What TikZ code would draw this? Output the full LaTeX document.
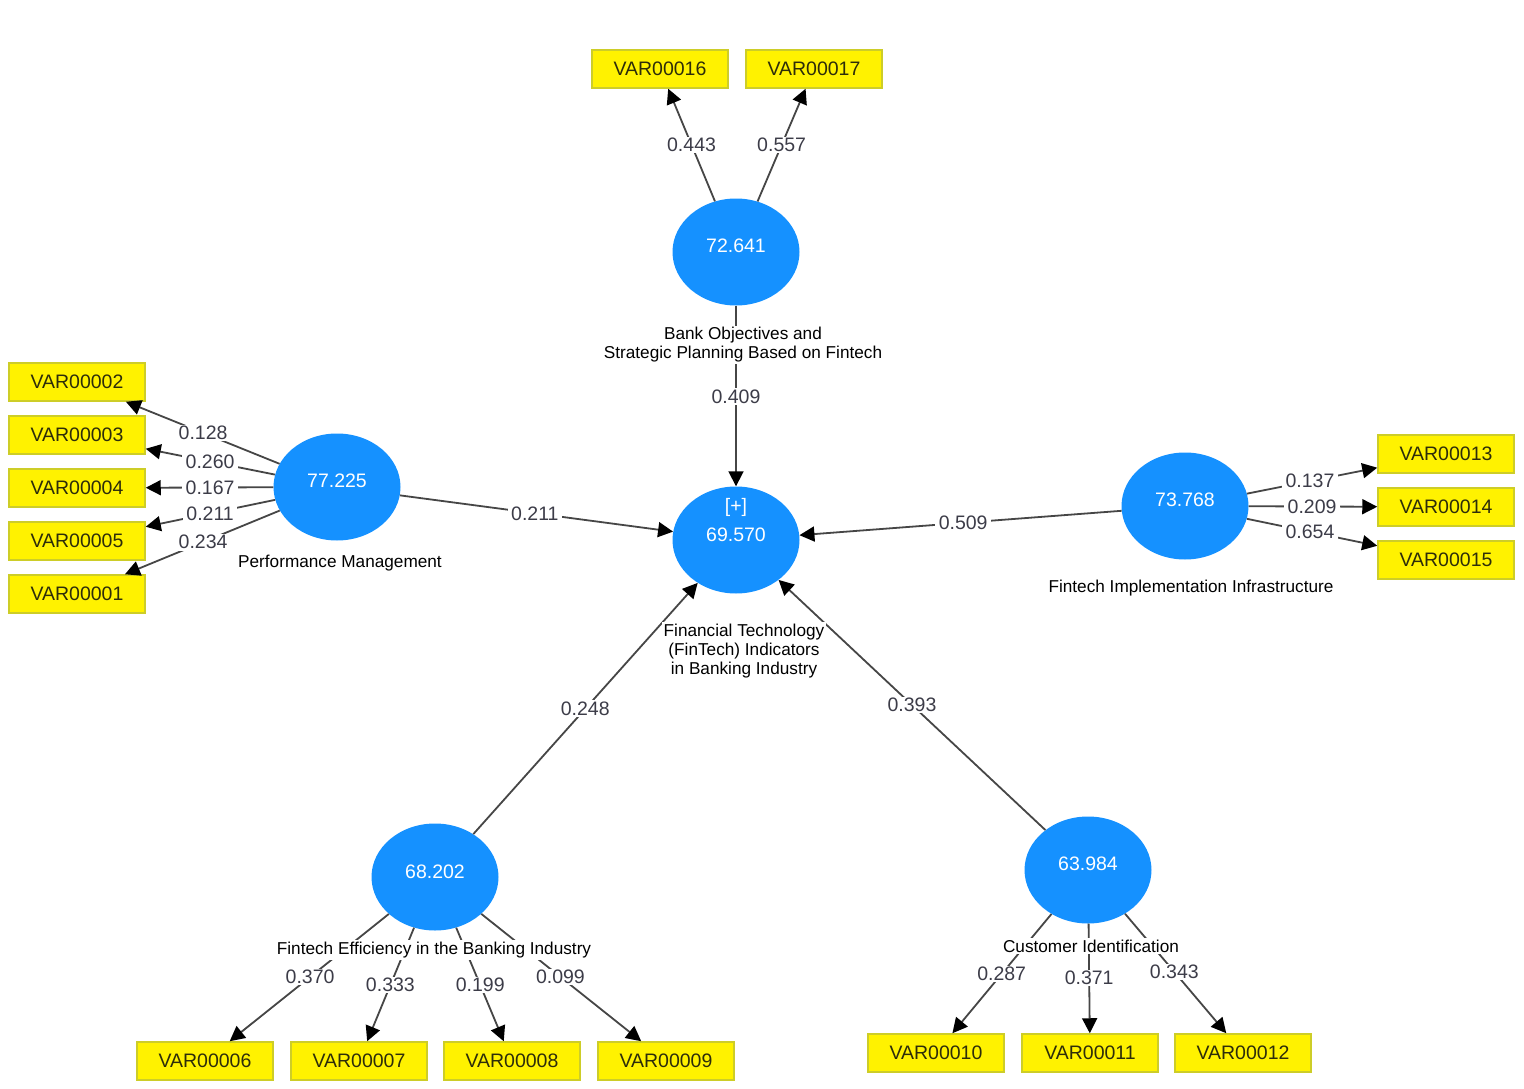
\documentclass[tikz,border=0pt]{standalone}
\usepackage{fontspec}
\setmainfont{Liberation Sans}
\usetikzlibrary{arrows.meta,calc,shapes.geometric}
\definecolor{lvblue}{RGB}{21,145,255}
\definecolor{boxborder}{RGB}{205,205,40}
\definecolor{boxtext}{RGB}{45,45,10}
\definecolor{linegray}{RGB}{70,70,70}
\definecolor{coefgray}{RGB}{60,60,72}
\begin{document}
\begin{tikzpicture}[x=1pt,y=-1pt,
  lv/.style={ellipse, fill=lvblue, minimum width=127pt, minimum height=107pt, inner sep=0pt},
  lvtxt/.style={text=white, inner sep=0pt, font=\fontsize{19.5}{22}\selectfont},
  ind/.style={rectangle, fill=yellow, draw=boxborder, line width=1.5pt, minimum width=136pt, minimum height=38pt, inner sep=0pt, text=boxtext, font=\fontsize{19.5}{22}\selectfont},
  lnk/.style={draw=linegray, line width=1.8pt, -{Triangle[length=15pt,width=15pt,color=black]}},
  coef/.style={fill=white, inner xsep=3.5pt, inner ysep=1.5pt, text=coefgray, font=\fontsize{19.5}{22}\selectfont},
  lvname/.style={fill=white, inner sep=1.5pt, align=center, text=black, font=\fontsize{17.2}{19}\selectfont}
]
\useasboundingbox (0,0) rectangle (1524,1089);
\fill[white] (0,0) rectangle (1524,1089);

% latent variables
\node[lv] (T)   at (736,252) {};
\node[lv] (C)   at (736,540) {};
\node[lv] (PM)  at (337,487) {};
\node[lv] (FII) at (1185,506) {};
\node[lv] (BL)  at (435,877) {};
\node[lv] (BR)  at (1088,870) {};

\node[lvtxt] (tT)   at ($(T)+(0,-6)$) {72.641};
\node[lvtxt] (tC1)  at ($(C)+(0,-33)$) {[+]};
\node[lvtxt] (tC2)  at ($(C)+(0,-5)$) {69.570};
\node[lvtxt] (tPM)  at ($(PM)+(0,-6)$) {77.225};
\node[lvtxt] (tFII) at ($(FII)+(0,-6)$) {73.768};
\node[lvtxt] (tBL)  at ($(BL)+(0,-5)$) {68.202};
\node[lvtxt] (tBR)  at ($(BR)+(0,-6)$) {63.984};

% indicators
\node[ind] (v16) at (660,69) {VAR00016};
\node[ind] (v17) at (814,69) {VAR00017};
\node[ind] (v02) at (77,382) {VAR00002};
\node[ind] (v03) at (77,435) {VAR00003};
\node[ind] (v04) at (77,488) {VAR00004};
\node[ind] (v05) at (77,541) {VAR00005};
\node[ind] (v01) at (77,594) {VAR00001};
\node[ind] (v13) at (1446,454) {VAR00013};
\node[ind] (v14) at (1446,507) {VAR00014};
\node[ind] (v15) at (1446,560) {VAR00015};
\node[ind] (v06) at (205,1061) {VAR00006};
\node[ind] (v07) at (359,1061) {VAR00007};
\node[ind] (v08) at (512,1061) {VAR00008};
\node[ind] (v09) at (666,1061) {VAR00009};
\node[ind] (v10) at (936,1053) {VAR00010};
\node[ind] (v11) at (1090,1053) {VAR00011};
\node[ind] (v12) at (1243,1053) {VAR00012};

% connectors
\draw[lnk] (T) -- (v16);
\draw[lnk] (T) -- (v17);
\draw[lnk] (PM) -- (v02);
\draw[lnk] (PM) -- (v03);
\draw[lnk] (PM) -- (v04);
\draw[lnk] (PM) -- (v05);
\draw[lnk] (PM) -- (v01);
\draw[lnk] (FII) -- (v13);
\draw[lnk] (FII) -- (v14);
\draw[lnk] (FII) -- (v15);
\draw[lnk] (BL) -- (v06);
\draw[lnk] (BL) -- (v07);
\draw[lnk] (BL) -- (v08);
\draw[lnk] (BL) -- (v09);
\draw[lnk] (BR) -- (v10);
\draw[lnk] (BR) -- (v11);
\draw[lnk] (BR) -- (v12);
\draw[lnk] (T) -- (C);
\draw[lnk] (PM) -- (C);
\draw[lnk] (FII) -- (C);
\draw[lnk] (BL) -- (C);
\draw[lnk] (BR) -- (C);

% construct names
\node[lvname] (nT)   at (743,345) {Bank Objectives and\\Strategic Planning Based on Fintech};
\node[lvname] (nPM)  at (340,563) {Performance Management};
\node[lvname] (nFII) at (1191,588) {Fintech Implementation Infrastructure};
\node[lvname] (nC)   at (744,651) {Financial Technology\\(FinTech) Indicators\\in Banking Industry};
\node[lvname] (nBL)  at (434,950) {Fintech Efficiency in the Banking Industry};
\node[lvname] (nBR)  at (1091,946) {Customer Identification};

% coefficients
\node[coef] at ($(T)!0.585!(v16)$) {0.443};
\node[coef] at ($(T)!0.585!(v17)$) {0.557};
\node[coef] at ($(T)!0.503!(C)$) {0.409};
\node[coef] at ($(PM)!0.515!(v02)$) {0.128};
\node[coef] at ($(PM)!0.488!(v03)$) {0.260};
\node[coef] at ($(PM)!0.488!(v04)$) {0.167};
\node[coef] at ($(PM)!0.488!(v05)$) {0.211};
\node[coef] at ($(PM)!0.515!(v01)$) {0.234};
\node[coef] at ($(FII)!0.479!(v13)$) {0.137};
\node[coef] at ($(FII)!0.487!(v14)$) {0.209};
\node[coef] at ($(FII)!0.479!(v15)$) {0.654};
\node[coef] at ($(PM)!0.496!(C)$) {0.211};
\node[coef] at ($(FII)!0.494!(C)$) {0.509};
\node[coef] at ($(BL)!0.499!(C)$) {0.248};
\node[coef] at ($(BR)!0.5!(C)$) {0.393};
\node[coef] at ($(BL)!0.543!(v06)$) {0.370};
\node[coef] at ($(BL)!0.587!(v07)$) {0.333};
\node[coef] at ($(BL)!0.587!(v08)$) {0.199};
\node[coef] at ($(BL)!0.543!(v09)$) {0.099};
\node[coef] at ($(BR)!0.568!(v10)$) {0.287};
\node[coef] at ($(BR)!0.59!(v11)$) {0.371};
\node[coef] at ($(BR)!0.557!(v12)$) {0.343};
\end{tikzpicture}
\end{document}
